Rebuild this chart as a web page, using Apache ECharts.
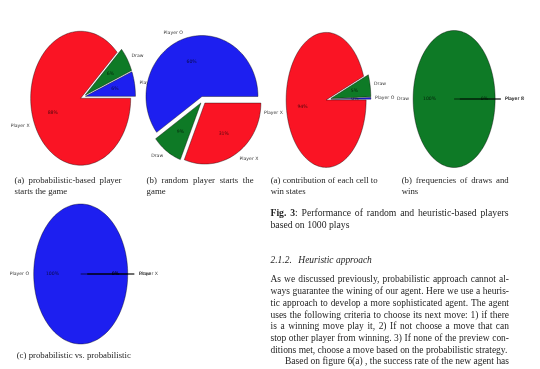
<!DOCTYPE html>
<html><head><meta charset="utf-8">
<script src="https://cdn.jsdelivr.net/npm/echarts@6/dist/echarts.min.js"></script>
<style>html,body{margin:0;padding:0;background:#fff}#c{width:540px;height:369px}</style>
</head><body><div id="c"></div>
<script>
// ---------- data ----------
const sliceNames = ['Player O', 'Draw', 'Player X'];
const pieA = [6, 6, 88];        // probabilistic-based player starts
const pieB = [60, 9, 31];       // random player starts
const pieC = [0.4, 5.3, 94.3];  // contribution of each cell to win states
const pieD = [0, 100, 0];       // frequencies of draws and wins
const pieE = [100, 0, 0];       // probabilistic vs. probabilistic

const subCaptions = [
  ['(a) probabilistic-based player', 'starts the game'],
  ['(b) random player starts the', 'game'],
  ['(a) contribution of each cell to', 'win states'],
  ['(b) frequencies of draws and', 'wins']
];
const bottomCaption = '(c) probabilistic vs. probabilistic';
const figLabel = ['Fig.', '3'];
const figCaption = ['Performance of random and heuristic-based players', 'based on 1000 plays'];
const sectionNumber = '2.1.2.';
const sectionTitle = 'Heuristic approach';
const bodyLines = [
  'As we discussed previously, probabilistic approach cannot al-',
  'ways guarantee the wining of our agent. Here we use a heuris-',
  'tic approach to develop a more sophisticated agent. The agent',
  'uses the following criteria to choose its next move: 1) if there',
  'is a winning move play it, 2) If not choose a move that can',
  'stop other player from winning. 3) If none of the preview con-',
  'ditions met, choose a move based on the probabilistic strategy.',
  'Based on figure 6(a) , the success rate of the new agent has'
];

// ---------- styles / layout ----------
const sliceColors = ['#1d1ff0', '#0e7a26', '#fa1424'];
const TEXT = '#1e1e1e';
const SERIF = '"Liberation Serif", "Times New Roman", serif';
const SANS = '"DejaVu Sans", sans-serif';
const pieLayouts = [
  {data: pieA, cx: 83, cy: 97, rx: 50, ry: 67, explode: 0.05},
  {data: pieB, cx: 203, cy: 100, rx: 56, ry: 61, explode: 0.06},
  {data: pieC, cx: 328.5, cy: 99.2, rx: 40, ry: 67.5, explode: 0.06},
  {data: pieD, cx: 457, cy: 99, rx: 41, ry: 68.5, explode: 0.07},
  {data: pieE, cx: 84, cy: 274, rx: 47, ry: 70, explode: 0.07}
];
const K = 1.2;

function makeRender(L) {
  const total = L.data.reduce((a, b) => a + b, 0);
  return function (params, api) {
    const j = params.dataIndex;
    const v = api.value(1);
    let before = 0;
    for (let k = 0; k < j; k++) before += L.data[k];
    const a0 = before / total * 2 * Math.PI;
    const a1 = (before + v) / total * 2 * Math.PI;
    const am = (a0 + a1) / 2;
    const ex = L.explode * Math.cos(am), ey = L.explode * Math.sin(am);
    const n = Math.max(2, Math.ceil((a1 - a0) / (2 * Math.PI) * 160));
    const pts = [api.coord([ex, ey])];
    for (let s = 0; s <= n; s++) {
      const a = a0 + (a1 - a0) * s / n;
      pts.push(api.coord([ex + Math.cos(a), ey + Math.sin(a)]));
    }
    const lp = api.coord([ex + 1.1 * Math.cos(am), ey + 1.1 * Math.sin(am)]);
    const pp = api.coord([ex + 0.6 * Math.cos(am), ey + 0.6 * Math.sin(am)]);
    const right = Math.cos(am) >= -1e-9;
    return {
      type: 'group',
      children: [
        {type: 'polygon', shape: {points: pts},
          style: {fill: sliceColors[j], stroke: 'rgba(0,0,0,0.55)', lineWidth: 0.7}},
        {type: 'text', x: lp[0], y: lp[1],
          style: {text: sliceNames[j], fill: '#333', font: '4.6px ' + SANS,
            align: right ? 'left' : 'right', verticalAlign: 'middle',
            textAlign: right ? 'left' : 'right', textVerticalAlign: 'middle'}},
        {type: 'text', x: pp[0], y: pp[1],
          style: {text: Math.round(v) + '%', fill: 'rgba(0,0,0,0.7)', font: '4.6px ' + SANS,
            align: 'center', verticalAlign: 'middle', textAlign: 'center', textVerticalAlign: 'middle'}}
      ]
    };
  };
}

const grids = [], xAxes = [], yAxes = [], series = [];
pieLayouts.forEach((L, i) => {
  grids.push({left: L.cx - K * L.rx, top: L.cy - K * L.ry, width: 2 * K * L.rx, height: 2 * K * L.ry, show: false});
  xAxes.push({type: 'value', gridIndex: i, min: -K, max: K, show: false});
  yAxes.push({type: 'value', gridIndex: i, min: -K, max: K, show: false});
  series.push({
    type: 'custom', xAxisIndex: i, yAxisIndex: i, silent: true, clip: false,
    renderItem: makeRender(L),
    data: L.data.map((v, j) => ({name: sliceNames[j], value: [j, v]}))
  });
});

// ---------- text layout ----------
const ctx = document.createElement('canvas').getContext('2d');
function fontStr(size, weight, italic) { return (italic ? 'italic ' : '') + (weight || 'normal') + ' ' + size.toFixed(2) + 'px ' + SERIF; }
function textW(s, f) { ctx.font = f; return ctx.measureText(s).width; }
function fitSize(s, target, weight, italic) { return 10 * target / textW(s, fontStr(10, weight, italic)); }

const els = [];
function addText(s, x, y, size, weight, italic) {
  els.push({type: 'text', x: x, y: y, silent: true,
    style: {text: s, font: fontStr(size, weight, italic), fill: TEXT,
      align: 'left', verticalAlign: 'middle', textAlign: 'left', textVerticalAlign: 'middle'}});
}
const tok = s => s.split(' ').filter(Boolean).map(w => [[w, 'normal']]);
function placeTokens(tokens, x0, width, y, size, italic) {
  const widths = tokens.map(t => t.reduce((a, sg) => a + textW(sg[0], fontStr(size, sg[1], italic)), 0));
  const total = widths.reduce((a, b) => a + b, 0);
  const gap = (width - total) / (tokens.length - 1);
  let x = x0;
  tokens.forEach((t, i) => {
    let xx = x;
    t.forEach(sg => { addText(sg[0], xx, y, size, sg[1], italic); xx += textW(sg[0], fontStr(size, sg[1], italic)); });
    x += widths[i] + gap;
  });
}

const capSize = fitSize(bottomCaption, 114.3);
const figSize = fitSize(figCaption[1], 79);
const bodySize = fitSize(bodyLines[6], 237);

const subX = [14.5, 146.6, 270.7, 401.7];
subCaptions.forEach((c, i) => {
  placeTokens(tok(c[0]), subX[i], 107, 181, capSize);
  addText(c[1], subX[i], 192, capSize);
});
addText(bottomCaption, 16.7, 356, capSize);

placeTokens([[[figLabel[0], 'bold']], [[figLabel[1], 'bold'], [':', 'normal']]].concat(tok(figCaption[0])),
  270.5, 238, 213, figSize);
addText(figCaption[1], 270.5, 225, figSize);

addText(sectionNumber, 270.5, 261, bodySize, 'normal', true);
addText(sectionTitle, 298.3, 261, bodySize, 'normal', true);

bodyLines.forEach((l, k) => {
  const y = 280 + 11.7 * k;
  if (k === 6) addText(l, 270.5, y, bodySize);
  else if (k === 7) placeTokens(tok(l), 285, 224, y, bodySize);
  else placeTokens(tok(l), 270.5, 238.5, y, bodySize);
});

const chart = echarts.init(document.getElementById('c'), null, {renderer: 'canvas'});
chart.setOption({
  animation: false,
  backgroundColor: '#fff',
  grid: grids, xAxis: xAxes, yAxis: yAxes, series: series,
  graphic: {elements: els}
});
</script></body></html>
